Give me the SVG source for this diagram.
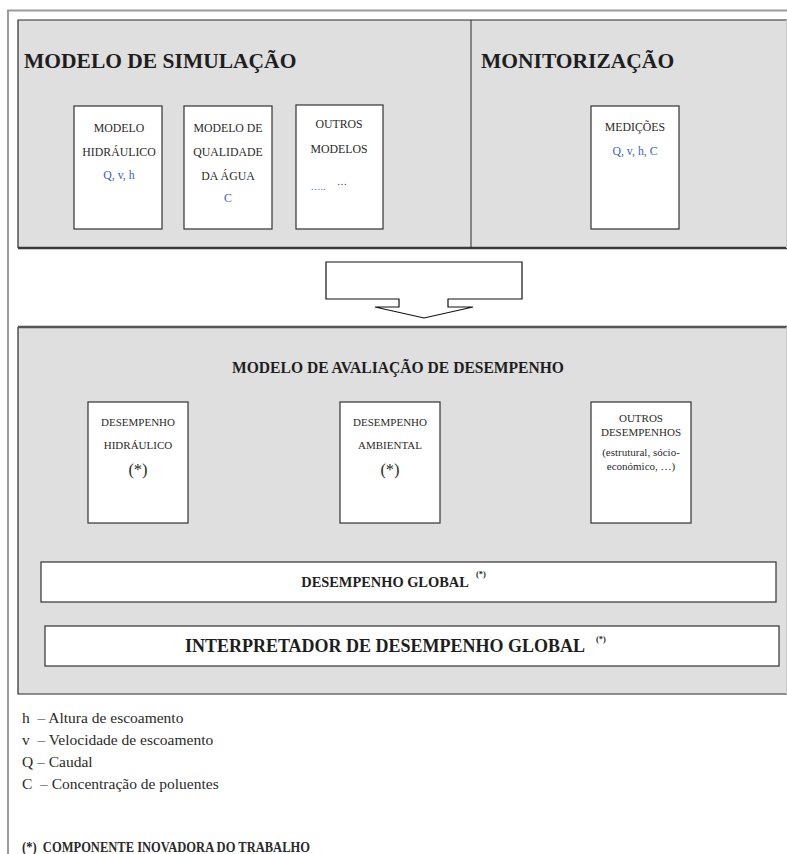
<svg xmlns="http://www.w3.org/2000/svg" width="787" height="854" viewBox="0 0 787 854">
  <style>
    .panel { fill: #dfdfdf; stroke: none; }
    .edge { stroke: #2b2b2b; stroke-width: 1.2; fill: none; }
    .box { fill: #ffffff; stroke: #333333; stroke-width: 1.2; }
    .bar { fill: #ffffff; stroke: #333333; stroke-width: 1.2; }
    .title { font-family: "Liberation Serif", "Times New Roman", serif; font-weight: bold; fill: #1e1e1e; }
    .lbl { font-family: "Liberation Serif", "Times New Roman", serif; fill: #2a2a2a; text-anchor: middle; }
    .var { font-family: "Liberation Serif", "Times New Roman", serif; fill: #3f5fbf; text-anchor: middle; }
    .legend { font-family: "Liberation Serif", "Times New Roman", serif; fill: #2a2a2a; font-size: 15.5px; white-space: pre; }
  </style>

  <!-- outer page frame -->
  <path d="M8,854 V10.5 H787" fill="none" stroke="#9a9a9a" stroke-width="2"/>

  <!-- upper panel: simulation + monitoring -->
  <g id="painel-superior">
    <rect class="panel" x="18" y="20" width="769" height="228"/>
    <path class="edge" d="M18,248 V20 H787"/>
    <line x1="18" y1="248" x2="787" y2="248" stroke="#3a3a3a" stroke-width="2.5"/>
    <line x1="786.5" y1="20" x2="786.5" y2="248" stroke="#c8c8c8" stroke-width="1"/>
    <line x1="471" y1="20" x2="471" y2="248" stroke="#2b2b2b" stroke-width="1"/>
    <text class="title" x="24" y="68" font-size="21.5">MODELO DE SIMULAÇÃO</text>
    <text class="title" x="481" y="68" font-size="21.5">MONITORIZAÇÃO</text>
  </g>

  <g id="modelo-hidraulico">
    <rect class="box" x="74" y="106" width="88" height="123"/>
    <text class="lbl" x="119" y="132" font-size="11.8">MODELO</text>
    <text class="lbl" x="119" y="156" font-size="11.8">HIDRÁULICO</text>
    <text class="var" x="119" y="179" font-size="11.8">Q, v, h</text>
  </g>

  <g id="modelo-qualidade">
    <rect class="box" x="184" y="106" width="88" height="123"/>
    <text class="lbl" x="228" y="132" font-size="11.8">MODELO DE</text>
    <text class="lbl" x="228" y="156" font-size="11.8">QUALIDADE</text>
    <text class="lbl" x="228" y="180" font-size="11.8">DA ÁGUA</text>
    <text class="var" x="228" y="202" font-size="11.8">C</text>
  </g>

  <g id="outros-modelos">
    <rect class="box" x="296" y="105" width="87" height="124" stroke-width="1.8" stroke="#111"/>
    <text class="lbl" x="339" y="128" font-size="11.8">OUTROS</text>
    <text class="lbl" x="339" y="153" font-size="11.8">MODELOS</text>
    <text class="var" x="318" y="190" font-size="10">…..</text>
    <text class="lbl" x="342" y="185" font-size="10">…</text>
  </g>

  <g id="medicoes">
    <rect class="box" x="591" y="106" width="88" height="123"/>
    <text class="lbl" x="635" y="131" font-size="11.8">MEDIÇÕES</text>
    <text class="var" x="635" y="155" font-size="11.8">Q, v, h, C</text>
  </g>

  <!-- flow arrow from the upper panel into the evaluation model -->
  <g id="conectores">
    <path d="M326,262 H522 V299 H448 V307 H473 L424,318 L375,307 H399 V299 H326 Z" fill="#ffffff" stroke="#111" stroke-width="1.2" stroke-linejoin="miter"/>
  </g>

  <!-- lower panel: performance evaluation model -->
  <g id="painel-avaliacao">
    <rect class="panel" x="18" y="327" width="769" height="367"/>
    <path class="edge" d="M18,327 V694 H787"/>
    <line x1="18" y1="327" x2="787" y2="327" stroke="#555" stroke-width="2.5"/>
    <line x1="786.5" y1="327" x2="786.5" y2="694" stroke="#c8c8c8" stroke-width="1"/>
    <text class="title" x="398" y="373" font-size="17.5" text-anchor="middle" textLength="332" lengthAdjust="spacingAndGlyphs">MODELO DE AVALIAÇÃO DE DESEMPENHO</text>
  </g>

  <g id="desempenho-hidraulico">
    <rect class="box" x="88" y="402" width="100" height="121"/>
    <text class="lbl" x="138" y="426" font-size="11">DESEMPENHO</text>
    <text class="lbl" x="138" y="449" font-size="11">HIDRÁULICO</text>
    <text class="lbl" x="138" y="475" font-size="16.5">(*)</text>
  </g>

  <g id="desempenho-ambiental">
    <rect class="box" x="340" y="402" width="100" height="121"/>
    <text class="lbl" x="390" y="426" font-size="11">DESEMPENHO</text>
    <text class="lbl" x="390" y="449" font-size="11">AMBIENTAL</text>
    <text class="lbl" x="390" y="475" font-size="16.5">(*)</text>
  </g>

  <g id="outros-desempenhos">
    <rect class="box" x="591" y="402" width="100" height="121"/>
    <text class="lbl" x="641" y="422" font-size="11">OUTROS</text>
    <text class="lbl" x="641" y="436" font-size="11">DESEMPENHOS</text>
    <text class="lbl" x="641" y="456" font-size="11">(estrutural, sócio-</text>
    <text class="lbl" x="641" y="470" font-size="11">económico, …)</text>
  </g>

  <g id="desempenho-global">
    <rect class="bar" x="41" y="562" width="735" height="40"/>
    <text class="title" x="385" y="587" font-size="14.4" text-anchor="middle">DESEMPENHO GLOBAL</text>
    <text class="title" x="476" y="577" font-size="8.5">(*)</text>
  </g>

  <g id="interpretador-global">
    <rect class="bar" x="45" y="626" width="734" height="40"/>
    <text class="title" x="385" y="652" font-size="18" text-anchor="middle">INTERPRETADOR DE DESEMPENHO GLOBAL</text>
    <text class="title" x="596" y="642" font-size="8.5">(*)</text>
  </g>

  <!-- symbol legend -->
  <g id="legenda">
    <text class="legend" x="22" y="723">h  – Altura de escoamento</text>
    <text class="legend" x="22" y="745">v  – Velocidade de escoamento</text>
    <text class="legend" x="22" y="767">Q – Caudal</text>
    <text class="legend" x="22" y="789">C  – Concentração de poluentes</text>
    <text class="legend" x="22" y="852" font-weight="bold" font-size="15px" textLength="288" lengthAdjust="spacingAndGlyphs">(*)  COMPONENTE INOVADORA DO TRABALHO</text>
  </g>
</svg>
